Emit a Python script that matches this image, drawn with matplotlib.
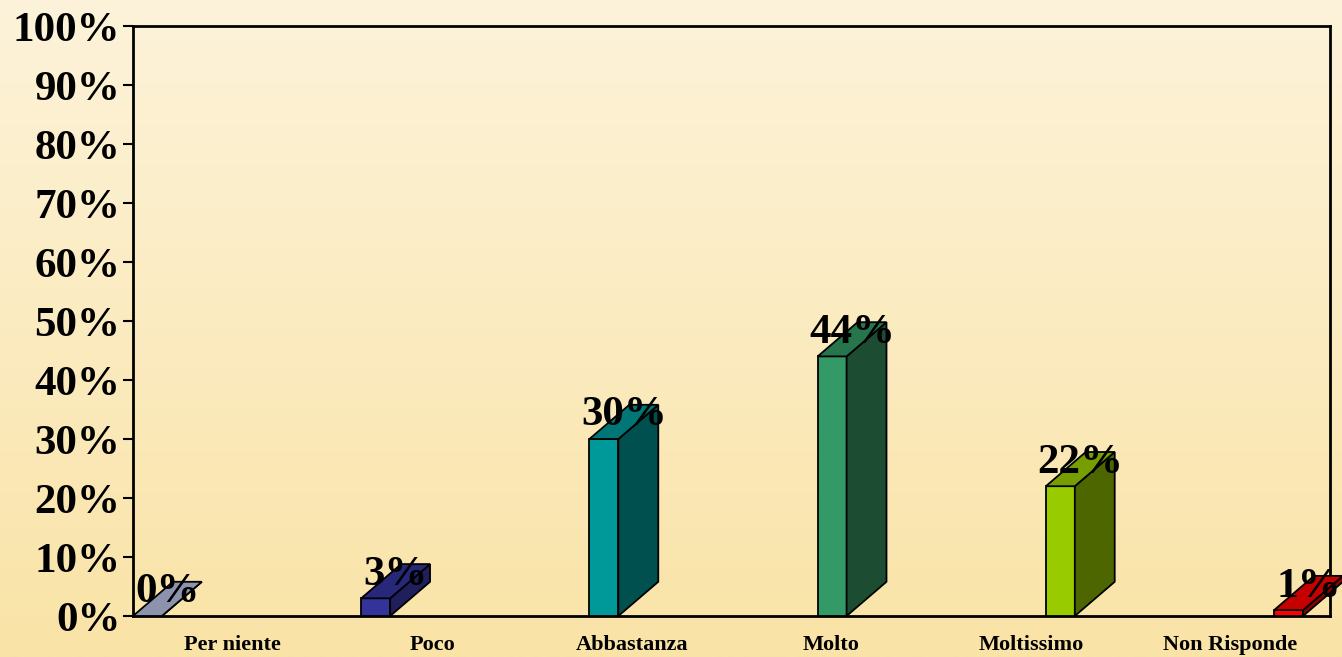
import matplotlib.pyplot as plt
from matplotlib.patches import Polygon
import numpy as np

# data
categories = ["Per niente", "Poco", "Abbastanza", "Molto", "Moltissimo", "Non Risponde"]
values = [0, 3, 30, 44, 22, 1]
labels = ["0%", "3%", "30%", "44%", "22%", "1%"]
front_colors = ["#9599B3", "#333399", "#009999", "#339966", "#99CC00", "#FF0000"]
top_colors = ["#8E93AD", "#28287A", "#007676", "#26754D", "#779E00", "#C40000"]
side_colors = ["#6E7390", "#1F1F5C", "#005050", "#1C4D33", "#4D6600", "#8C0000"]

fig = plt.figure(figsize=(13.42, 6.57), dpi=100)

# background gradient
bg = fig.add_axes([0, 0, 1, 1], zorder=0)
grad = np.linspace(0, 1, 256).reshape(-1, 1)
c_top = np.array([253, 243, 218]) / 255
c_bot = np.array([249, 227, 166]) / 255
img = c_top + (c_bot - c_top) * grad[:, :, None]
bg.imshow(img, aspect="auto", extent=[0, 1, 0, 1])
bg.axis("off")

ax = fig.add_axes([0.0991, 0.0624, 0.892, 0.898], zorder=1)
ax.patch.set_alpha(0)
ax.set_xlim(0, 6)
ax.set_ylim(0, 100)

# 3d-ish bars
step = 1.1439
w = 0.145
dx = 0.2
dy = 5.8
for i, v in enumerate(values):
    x0 = i * step
    front = Polygon([(x0, 0), (x0 + w, 0), (x0 + w, v), (x0, v)], closed=True,
                    fc=front_colors[i], ec="black", lw=1.3, clip_on=False, zorder=3)
    side = Polygon([(x0 + w, 0), (x0 + w + dx, dy), (x0 + w + dx, v + dy), (x0 + w, v)], closed=True,
                   fc=side_colors[i], ec="black", lw=1.3, clip_on=False, zorder=3)
    top = Polygon([(x0, v), (x0 + w, v), (x0 + w + dx, v + dy), (x0 + dx, v + dy)], closed=True,
                  fc=top_colors[i], ec="black", lw=1.3, clip_on=False, zorder=3)
    for p in (front, side, top):
        ax.add_patch(p)
    ax.text(x0 + w / 2 + dx / 2, v + 4.0, labels[i], ha="center", va="center",
            fontsize=31, fontweight="bold", family="Liberation Serif", zorder=5, clip_on=False)

ax.set_yticks(np.arange(0, 101, 10))
ax.set_yticklabels([f"{t}%" for t in range(0, 101, 10)], fontsize=31, fontweight="bold",
                   family="Liberation Serif")
ax.tick_params(axis="y", length=7, width=1.5, pad=2)
ax.set_xticks(np.arange(6) + 0.5)
ax.set_xticklabels(categories, fontsize=16, fontweight="bold", family="Liberation Serif")
ax.tick_params(axis="x", length=0, pad=14)
for s in ax.spines.values():
    s.set_linewidth(2)
    s.set_color("black")

fig.savefig("out.png", dpi=100)
